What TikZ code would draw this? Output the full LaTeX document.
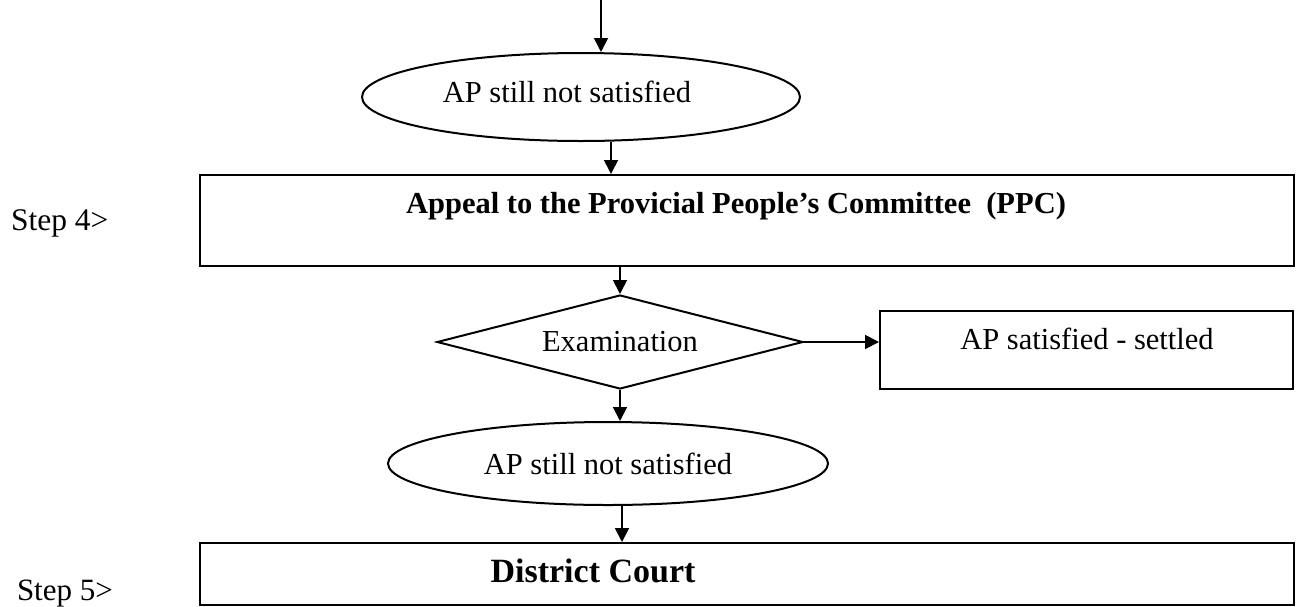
\documentclass[tikz,border=0pt]{standalone}
\usepackage{fontspec}
\setmainfont{Liberation Serif}
\usetikzlibrary{shapes.geometric,arrows.meta}

\begin{document}
\begin{tikzpicture}[x=1pt,y=-1pt,
  line width=2pt,
  txt/.style={font=\fontsize{30.5}{36}\selectfont, inner sep=0pt},
  boldtxt/.style={font=\fontsize{30.5}{36}\selectfont\bfseries, inner sep=0pt},
  oval/.style={draw, ellipse, inner sep=0pt, txt},
  choice/.style={draw, diamond, aspect=3.9, inner sep=0pt, txt},
  panel/.style={draw, rectangle, inner sep=0pt, txt},
  flow/.style={line width=1.8pt, -{Triangle[length=14pt,width=14pt]}}
]
\useasboundingbox (0,0) rectangle (1300,606);

% shapes and their texts
\node[oval, minimum width=438, minimum height=88] (ell1) at (581,97) {};
\node[txt, anchor=base] (ell1text) at (567,102) {AP still not satisfied};

\node[panel, minimum width=1094, minimum height=91] (box1) at (747,220.5) {};
\node[boldtxt, anchor=base] (box1text) at (736,213) {Appeal to the Provicial People’s Committee\ \ (PPC)};
\node[txt, anchor=base west, font=\fontsize{31.5}{36}\selectfont] (step4) at (10,230) {Step 4>};

\node[choice, minimum width=366, minimum height=94] (dia) at (620,342) {Examination};

\node[panel, minimum width=413, minimum height=78] (box3) at (1086.5,350) {};
\node[txt, anchor=base] (box3text) at (1087,349) {AP satisfied - settled};

\node[oval, minimum width=440, minimum height=83] (ell2) at (608,463.5) {AP still not satisfied};

\node[panel, minimum width=1094, minimum height=62] (box2) at (747,574) {};
\node[boldtxt, anchor=base, font=\fontsize{34}{40}\selectfont\bfseries] (box2text) at (593,582) {District Court};
\node[txt, anchor=base west, font=\fontsize{31}{36}\selectfont] (step5) at (16,600) {Step 5>};

% connectors
\coordinate (start) at (601,0);
\draw[flow] (start) -- (start |- ell1.north);
\draw[flow] ([xshift=30]ell1.south) -- ([xshift=30]ell1.south |- box1.north);
\draw[flow] (box1.south -| dia.north) -- (dia.north);
\draw[flow] (dia.east) -- (dia.east -| box3.west);
\draw[flow] (dia.south) -- (dia.south |- ell2.north);
\draw[flow] ([xshift=14]ell2.south) -- ([xshift=14]ell2.south |- box2.north);
\end{tikzpicture}
\end{document}
